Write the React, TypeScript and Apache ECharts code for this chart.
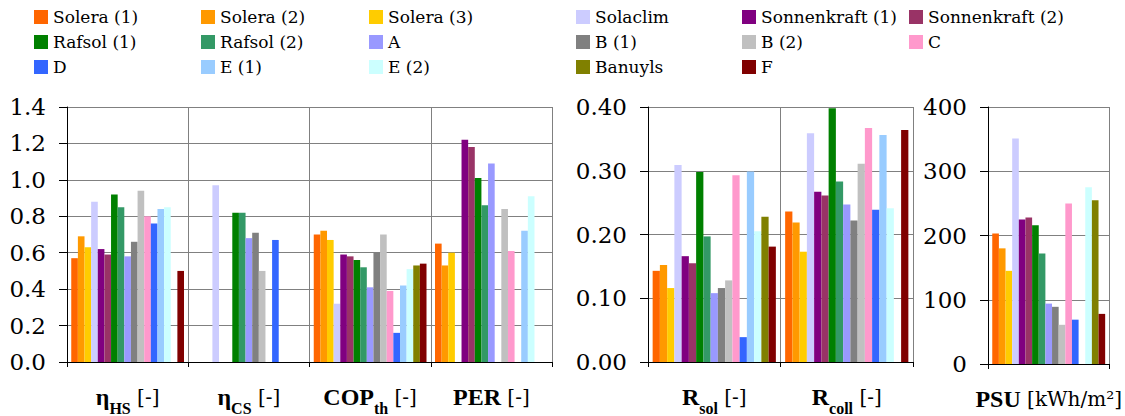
import React, { useEffect, useRef } from "react";
import * as echarts from "echarts";

const seriesNames = [
  "Solera (1)", "Solera (2)", "Solera (3)", "Solaclim", "Sonnenkraft (1)", "Sonnenkraft (2)",
  "Rafsol (1)", "Rafsol (2)", "A", "B (1)", "B (2)", "C",
  "D", "E (1)", "E (2)", "Banuyls", "F",
];
const seriesColors = [
  "#FF6600", "#FF9900", "#FFCC00", "#CCCCFF", "#800080", "#993366",
  "#008000", "#339966", "#9999FF", "#808080", "#C0C0C0", "#FF99CC",
  "#3366FF", "#99CCFF", "#CCFFFF", "#808000", "#800000",
];

// panel 1 metrics
const etaHS = [0.57, 0.69, 0.63, 0.88, 0.62, 0.59, 0.92, 0.85, 0.58, 0.66, 0.94, 0.80, 0.76, 0.84, 0.85, null, 0.50];
const etaCS = [null, null, null, 0.97, null, null, 0.82, 0.82, 0.68, 0.71, 0.50, null, 0.67, null, null, null, null];
const copTh = [0.70, 0.72, 0.67, 0.32, 0.59, 0.58, 0.56, 0.52, 0.41, 0.60, 0.70, 0.39, 0.16, 0.42, 0.51, 0.53, 0.54];
const per = [0.65, 0.53, 0.60, null, 1.22, 1.18, 1.01, 0.86, 1.09, null, 0.84, 0.61, null, 0.72, 0.91, null, null];
// panel 2 metrics
const rSol = [0.143, 0.152, 0.116, 0.309, 0.166, 0.155, 0.298, 0.197, 0.108, 0.116, 0.128, 0.293, 0.039, 0.299, 0.205, 0.228, 0.181];
const rColl = [0.236, 0.219, 0.173, 0.359, 0.267, 0.261, 0.398, 0.283, 0.247, 0.222, 0.311, 0.367, 0.239, 0.356, 0.241, null, 0.364];
// panel 3 metric
const psu = [203, 180, 145, 351, 225, 228, 216, 172, 94, 89, 61, 250, 69, null, 275, 255, 78];

const categories1 = ["etaHS", "etaCS", "COPth", "PER"];
const categories2 = ["Rsol", "Rcoll"];
const categories3 = ["PSU"];

const categoryLabels: Record<string, string> = {
  etaHS: "{b|η}{s|HS}{n| [-]}",
  etaCS: "{b|η}{s|CS}{n| [-]}",
  COPth: "{b|COP}{s|th}{n| [-]}",
  PER: "{b|PER}{n| [-]}",
  Rsol: "{b|R}{s|sol}{n| [-]}",
  Rcoll: "{b|R}{s|coll}{n| [-]}",
  PSU: "{b|PSU}{n| [kWh/m²]}",
};

const legendColumns = [
  { left: 34, names: ["Solera (1)", "Rafsol (1)", "D"] },
  { left: 201, names: ["Solera (2)", "Rafsol (2)", "E (1)"] },
  { left: 369, names: ["Solera (3)", "A", "E (2)"] },
  { left: 576, names: ["Solaclim", "B (1)", "Banuyls"] },
  { left: 742, names: ["Sonnenkraft (1)", "B (2)", "F"] },
  { left: 909, names: ["Sonnenkraft (2)", "C"] },
];

const FONT_BOLD = "Liberation Serif";
const FONT_REG = "DejaVu Serif";

export default function App() {
  const ref = useRef<HTMLDivElement>(null);

  useEffect(() => {
    document.body.style.margin = "0";
    if (!ref.current) return;
    const chart = echarts.init(ref.current, undefined, { renderer: "svg" });

    const rich = {
      b: { fontFamily: FONT_BOLD, fontWeight: "bold", fontSize: 24, lineHeight: 26, color: "#000", verticalAlign: "middle" },
      s: { fontFamily: FONT_BOLD, fontWeight: "bold", fontSize: 16, lineHeight: 16, color: "#000", verticalAlign: "middle", padding: [22, 0, 0, 0] },
      n: { fontFamily: FONT_REG, fontWeight: "normal", fontSize: 20, lineHeight: 26, color: "#000", verticalAlign: "middle" },
    };

    const grids = [
      { left: 67, top: 107, width: 485, height: 257 },
      { left: 648, top: 107, width: 265, height: 257 },
      { left: 988, top: 107, width: 130, height: 257 },
    ];

    const xCats = [categories1, categories2, categories3];
    const xAxes = xCats.map((cats, i) => ({
      type: "category",
      gridIndex: i,
      data: cats,
      axisLine: { show: true, lineStyle: { color: "#000", width: 1 } },
      axisTick: { show: true, length: 5, lineStyle: { color: "#000" } },
      splitLine: { show: true, lineStyle: { color: "#808080", width: 1 } },
      axisLabel: {
        interval: 0,
        margin: 22,
        formatter: (v: string) => categoryLabels[v],
        rich,
      },
    }));

    const yDefs = [
      { max: 1.4, interval: 0.2, dec: 1 },
      { max: 0.4, interval: 0.1, dec: 2 },
      { max: 400, interval: 100, dec: 0 },
    ];
    const yAxes = yDefs.map((d, i) => ({
      type: "value",
      gridIndex: i,
      min: 0,
      max: d.max,
      interval: d.interval,
      axisLine: { show: true, lineStyle: { color: "#000", width: 1 } },
      axisTick: { show: true, length: 8, lineStyle: { color: "#000" } },
      splitLine: { show: true, lineStyle: { color: "#808080", width: 1 } },
      axisLabel: {
        margin: 21,
        fontFamily: FONT_REG,
        fontSize: 23,
        color: "#000",
        formatter: (v: number) => v.toFixed(d.dec),
      },
    }));

    const series: any[] = [];
    const panelData = [
      (i: number) => [etaHS[i], etaCS[i], copTh[i], per[i]],
      (i: number) => [rSol[i], rColl[i]],
      (i: number) => [psu[i]],
    ];
    panelData.forEach((fn, p) => {
      seriesNames.forEach((name, i) => {
        series.push({
          type: "bar",
          name,
          xAxisIndex: p,
          yAxisIndex: p,
          data: fn(i),
          barGap: "0%",
          barCategoryGap: "7%",
          itemStyle: { color: seriesColors[i] },
          emphasis: { disabled: true },
        });
      });
    });

    const legends = legendColumns.map((c) => ({
      orient: "vertical",
      left: c.left,
      top: 6,
      padding: 0,
      itemWidth: 14,
      itemHeight: 14,
      itemGap: 3,
      icon: "rect",
      data: c.names,
      textStyle: { fontFamily: FONT_REG, fontSize: 17, lineHeight: 22, color: "#000" },
    }));

    chart.setOption({
      animation: false,
      backgroundColor: "#fff",
      legend: legends,
      grid: grids,
      xAxis: xAxes,
      yAxis: yAxes,
      series,
    });

    return () => chart.dispose();
  }, []);

  return <div ref={ref} style={{ width: 1125, height: 416 }} />;
}
